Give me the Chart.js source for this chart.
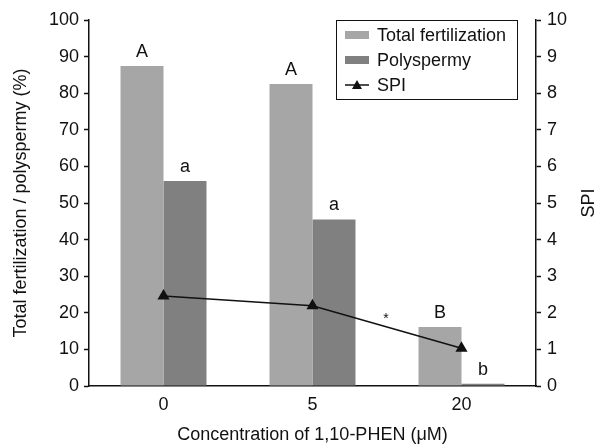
<!DOCTYPE html>
<html>
<head>
<meta charset="utf-8">
<script src="https://cdn.jsdelivr.net/npm/chart.js@4.4.0/dist/chart.umd.min.js"></script>
<style>
  html, body { margin: 0; padding: 0; background: #fff; }
  #wrap { width: 597px; height: 446px; }
</style>
</head>
<body>
<div id="wrap"><canvas id="myChart"></canvas></div>
<script>
const concentrations = ["0", "5", "20"];
const totalFert = [87.4, 82.5, 16.1];
const polyspermy = [56.0, 45.5, 0.6];
const spi = [2.46, 2.19, 1.03];
const totalLetters = ["A", "A", "B"];
const polyLetters = ["a", "a", "b"];
// asterisk between 5 and 20 µM (category index, SPI value)
const starMark = [1.5, 1.9];

const FONT = "'Liberation Sans', Arial, sans-serif";
const INK = "#111";

// letters over the bars, the asterisk, the legend and the right title
const extras = {
  id: "extras",
  afterDatasetsDraw(chart) {
    const ctx = chart.ctx;
    ctx.save();
    ctx.fillStyle = INK;
    ctx.font = "18px " + FONT;
    ctx.textAlign = "center";
    ctx.textBaseline = "bottom";
    [[0, totalLetters], [1, polyLetters]].forEach(([di, letters]) => {
      chart.getDatasetMeta(di).data.forEach((bar, i) => {
        ctx.fillText(letters[i], bar.x, bar.y - 5);
      });
    });
    // star
    const sx = chart.scales.x;
    const px = sx.getPixelForValue(1) + (sx.getPixelForValue(2) - sx.getPixelForValue(1)) * (starMark[0] - 1);
    const py = chart.scales.y2.getPixelForValue(starMark[1]);
    ctx.font = "14px " + FONT;
    ctx.textBaseline = "middle";
    ctx.fillText("*", px - 1, py + 3);

    // legend box
    const a = chart.chartArea;
    const lx = a.right - 200, ly = a.top;
    ctx.strokeStyle = INK;
    ctx.lineWidth = 1;
    ctx.strokeRect(lx + 0.5, ly + 0.5, 181, 79);
    ctx.font = "18px " + FONT;
    ctx.textAlign = "left";
    ctx.textBaseline = "middle";
    const ds = chart.data.datasets;
    ds.forEach((d, i) => {
      const cy = ly + 15 + i * 25;
      if (d.type === "line") {
        ctx.beginPath();
        ctx.moveTo(lx + 9, cy);
        ctx.lineTo(lx + 33, cy);
        ctx.lineWidth = 1.5;
        ctx.stroke();
        ctx.beginPath();
        ctx.moveTo(lx + 21, cy - 5);
        ctx.lineTo(lx + 26, cy + 4);
        ctx.lineTo(lx + 16, cy + 4);
        ctx.closePath();
        ctx.fill();
      } else {
        ctx.fillStyle = d.backgroundColor;
        ctx.fillRect(lx + 9, cy - 4, 24, 8);
        ctx.fillStyle = INK;
      }
      ctx.fillText(d.label, lx + 41, cy + 1);
    });

    // right axis title, reading bottom to top
    ctx.save();
    ctx.translate(589, (a.top + a.bottom) / 2);
    ctx.rotate(-Math.PI / 2);
    ctx.textAlign = "center";
    ctx.textBaseline = "middle";
    ctx.fillText("SPI", 0, 0);
    ctx.restore();
    ctx.restore();
  }
};

Chart.defaults.font.family = FONT;
Chart.defaults.font.size = 18;
Chart.defaults.color = INK;

new Chart(document.getElementById("myChart"), {
  type: "bar",
  data: {
    labels: concentrations,
    datasets: [
      { label: "Total fertilization", data: totalFert, backgroundColor: "#a6a6a6", yAxisID: "y", order: 2 },
      { label: "Polyspermy", data: polyspermy, backgroundColor: "#808080", yAxisID: "y", order: 2 },
      {
        type: "line", label: "SPI", data: spi, yAxisID: "y2", order: 1,
        borderColor: INK, borderWidth: 1.5, tension: 0,
        pointStyle: "triangle", pointRadius: 5.5, pointBackgroundColor: INK, pointBorderColor: INK
      }
    ]
  },
  options: {
    responsive: true,
    maintainAspectRatio: false,
    animation: false,
    layout: { padding: { top: 20, right: 0, left: 0, bottom: 0 } },
    categoryPercentage: 0.577,
    barPercentage: 1,
    plugins: { legend: { display: false }, tooltip: { enabled: false } },
    scales: {
      x: {
        grid: { display: false },
        border: { color: INK, width: 1.5 },
        ticks: { padding: 0 },
        title: { display: true, text: "Concentration of 1,10-PHEN (\u03bcM)", padding: { top: 10, bottom: 0 } },
        afterFit: s => { s.height = 60; }
      },
      y: {
        position: "left",
        min: 0, max: 100,
        ticks: { stepSize: 10, padding: 5 },
        grid: { drawOnChartArea: false, tickLength: 5, color: INK, tickWidth: 1.5 },
        border: { color: INK, width: 1.5 },
        title: { display: true, text: "Total fertilization / polyspermy (%)", padding: { top: 10, bottom: 0 } },
        afterFit: s => { s.width = 89; }
      },
      y2: {
        position: "right",
        min: 0, max: 10,
        ticks: { stepSize: 1, padding: 6 },
        grid: { drawOnChartArea: false, tickLength: 5, color: INK, tickWidth: 1.5 },
        border: { color: INK, width: 1.5 },
        afterFit: s => { s.width = 61; }
      }
    }
  },
  plugins: [extras]
});
</script>
</body>
</html>
